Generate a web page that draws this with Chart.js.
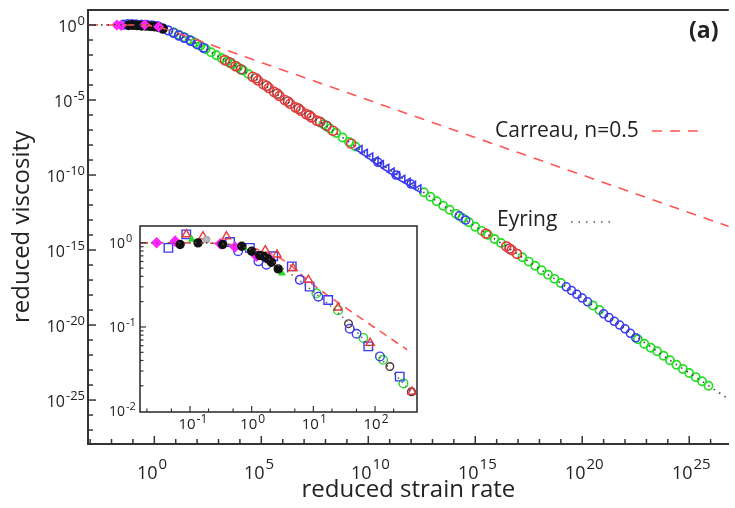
<!DOCTYPE html>
<html>
<head>
<meta charset="utf-8">
<script src="https://cdn.jsdelivr.net/npm/chart.js@4.4.1/dist/chart.umd.min.js"></script>
<style>
  body { margin: 0; background: #fff; }
  #wrap { position: relative; width: 735px; height: 508px; }
  #mainChart { position: absolute; left: 0; top: 0; }
  #insetChart { position: absolute; left: 95px; top: 215px; }
</style>
</head>
<body>
<div id="wrap">
  <canvas id="mainChart" width="735" height="508"></canvas>
  <canvas id="insetChart" width="335" height="235"></canvas>
</div>
<script>
// all values are log10 of reduced strain rate (X) and reduced viscosity (Y)

// main plot: model curves
const mainEyringX = [-3.1, -1, 0, 0.5, 1, 1.5, 2, 3, 4, 5, 6, 7, 8, 9, 10, 12, 14, 16, 18, 20, 22, 24, 26, 26.85];
const mainEyringY = [0, 0.02, -0.05, -0.25, -0.55, -0.88, -1.25, -2.1, -2.9, -3.85, -4.9, -5.85, -6.7, -7.7, -8.7, -10.6, -12.5, -14.35, -16.25, -18.2, -20.25, -22.25, -24.13, -24.95];
const mainCarreauX = [-3.1, -1, -0.5, 0, 0.5, 1, 1.5, 2, 3, 5, 10, 15, 20, 26.85];
const mainCarreauY = [0, 0, -0.01, -0.08, -0.26, -0.5, -0.75, -1.0, -1.5, -2.5, -5.0, -7.5, -10.0, -13.43];

// main plot: data
const mainMagentaX = [-1.75, -1.55, -0.45, 0.2];
const mainMagentaY = [0.0, -0.03, 0.02, -0.12];
const mainBlackX = [-1.2, -1.0, -0.8, -0.6, -0.4, -0.2, 0.0, 0.2, 0.4];
const mainBlackY = [-0.02, 0.0, -0.03, -0.05, -0.05, -0.08, -0.1, -0.15, -0.25];
const mainBlueEarlyX = [-1.45, -1.25, -1.05, -0.85, -0.6, -0.35, -0.1, 0.15, 0.4, 0.65, 0.9, 1.15, 1.4, 1.7, 2.0, 2.3];
const mainBlueEarlyY = [0.02, 0.05, 0.05, 0.04, 0.03, 0.0, -0.02, -0.08, -0.22, -0.36, -0.52, -0.7, -0.85, -1.05, -1.28, -1.52];
const mainGreenX = [0.9, 1.15, 1.4, 1.65, 1.9, 2.15, 2.4, 2.65, 2.9, 3.15, 3.4, 3.65, 3.9, 4.15, 4.4,
  7.9, 8.2, 8.5, 8.8, 9.1, 9.4,
  12.6, 12.9, 13.2, 13.5, 13.8, 14.1, 14.4, 14.7, 15.0, 15.3, 15.6, 15.9, 16.2,
  17.2, 17.5, 17.8, 18.1, 18.4, 18.7, 19.0, 20.5, 20.8,
  22.6, 22.9, 23.2, 23.5, 23.8, 24.1, 24.4, 24.7, 25.0, 25.3, 25.6, 25.9];
const mainGreenY = [-0.49, -0.65, -0.82, -0.99, -1.17, -1.38, -1.6, -1.81, -2.02, -2.22, -2.42, -2.62, -2.82, -3.03, -3.26,
  -6.62, -6.9, -7.2, -7.5, -7.8, -8.1,
  -11.15, -11.45, -11.75, -12.05, -12.32, -12.59, -12.86, -13.15, -13.45, -13.72, -13.99, -14.26, -14.53,
  -15.48, -15.77, -16.05, -16.35, -16.64, -16.92, -17.2, -18.7, -19.0,
  -20.95, -21.25, -21.51, -21.75, -22.05, -22.35, -22.65, -22.93, -23.2, -23.47, -23.75, -24.05];
const mainRedX = [3.3, 3.8, 4.6, 4.85, 5.1, 5.35, 5.6, 5.85, 6.1, 6.35, 6.6, 6.85, 7.1, 7.35, 7.6, 8.35, 9.2, 15.5, 16.45, 16.7, 16.95];
const mainRedY = [-2.34, -2.74, -3.45, -3.7, -3.95, -4.2, -4.46, -4.73, -5.0, -5.25, -5.49, -5.71, -5.94, -6.16, -6.38, -7.05, -7.9, -13.9, -14.75, -15.0, -15.25];
const mainDarkRedX = [3.55, 4.05, 4.75, 5.25, 5.75, 6.25, 6.75, 7.25, 7.75, 8.05, 16.6];
const mainDarkRedY = [-2.5, -2.95, -3.55, -4.05, -4.58, -5.1, -5.58, -6.03, -6.46, -6.72, -14.9];
const mainBlueTriX = [9.6, 9.85, 10.1, 10.35, 10.6, 10.85, 11.1, 11.35, 11.6, 11.85, 12.1, 12.35];
const mainBlueTriY = [-8.3, -8.55, -8.8, -9.05, -9.3, -9.55, -9.8, -10.05, -10.28, -10.48, -10.69, -10.92];
const mainBlueLateX = [10.45, 11.3, 12.0, 14.25, 14.55, 19.25, 19.5, 19.75, 20.0, 20.25, 21.0, 21.25, 21.5, 21.75, 22.0, 22.25, 22.5];
const mainBlueLateY = [-9.15, -10.0, -10.6, -12.72, -13.0, -17.45, -17.7, -17.95, -18.2, -18.45, -19.25, -19.5, -19.75, -20.0, -20.25, -20.55, -20.85];

// inset
const insetCarreauX = [-1.81, -1, -0.5, 0, 0.5, 1, 1.5, 2, 2.52];
const insetCarreauY = [0, 0, -0.01, -0.06, -0.2, -0.5, -0.76, -1.01, -1.27];
const insetEyringX = [-1.81, -1, -0.5, 0, 0.5, 1, 1.5, 2, 2.68];
const insetEyringY = [0, 0, -0.01, -0.08, -0.3, -0.58, -0.9, -1.3, -1.85];
const insetMagentaX = [-1.54, -1.24, -0.51, -0.27, 0.08, 0.30];
const insetMagentaY = [0.0, 0.02, -0.01, -0.05, -0.16, -0.20];
const insetSquareX = [-1.35, -1.06, -0.35, -0.03, 0.35, 0.65, 0.94, 1.24, 1.89, 2.40];
const insetSquareY = [-0.06, 0.10, 0.01, -0.06, -0.16, -0.28, -0.52, -0.68, -1.23, -1.59];
const insetTriX = [-1.06, -0.79, -0.41, 0.22, 0.41, 0.67, 0.92, 1.40, 1.92, 2.60];
const insetTriY = [0.10, 0.075, 0.075, -0.09, -0.14, -0.30, -0.44, -0.77, -1.19, -1.77];
const insetBlackX = [-1.16, -0.87, -0.47, -0.16, 0.0, 0.13, 0.19, 0.26, 0.32, 0.43];
const insetBlackY = [-0.02, 0.0, -0.02, -0.04, -0.10, -0.15, -0.16, -0.19, -0.23, -0.31];
const insetBlueCircX = [-0.22, 0.11, 0.24, 0.78, 1.08, 1.59, 1.70, 2.08];
const insetBlueCircY = [-0.10, -0.22, -0.26, -0.44, -0.64, -1.02, -1.08, -1.35];
const insetGreenCircX = [1.05, 1.40, 1.81, 2.13, 2.46];
const insetGreenCircY = [-0.60, -0.80, -1.13, -1.39, -1.67];
const insetGreenFillX = [-0.97, -0.12, 0.49];
const insetGreenFillY = [0.04, -0.06, -0.36];
const insetDarkX = [1.57, 2.24, 2.59];
const insetDarkY = [-0.96, -1.47, -1.77];
const insetGrayX = [-0.73];
const insetGrayY = [0.04];

const FONT = '"Open Sans", "DejaVu Sans", sans-serif';
const INK = '#222';
const AXIS = '#333';

function pts(xs, ys) {
    return xs.map((v, i) => ({ x: 10 ** v, y: 10 ** ys[i] }));
}

function markers(label, xs, ys, shape, radius, stroke, fillColor, rot, bw) {
    return {
        label, data: pts(xs, ys), showLine: false,
        pointStyle: shape, pointRadius: radius, pointRotation: rot || 0,
        pointBorderColor: stroke, pointBackgroundColor: fillColor, pointBorderWidth: bw || 1.4,
        borderColor: stroke, backgroundColor: fillColor
    };
}

function curve(label, xs, ys, color, dash, width) {
    return {
        label, data: pts(xs, ys), showLine: true, pointRadius: 0,
        borderColor: color, borderWidth: width, borderDash: dash,
        cubicInterpolationMode: 'monotone', fill: false
    };
}

// "10" with a raised exponent
function drawPow(ctx, exp, x, cy, o) {
    ctx.font = o.base + 'px ' + FONT;
    const wb = ctx.measureText('10').width;
    ctx.font = o.sup + 'px ' + FONT;
    const ws = ctx.measureText(exp).width;
    let x0;
    if (o.align === 'right') x0 = x - ws - wb - 1;
    else if (o.align === 'left') x0 = x;
    else x0 = x - wb / 2;
    ctx.textAlign = 'left';
    ctx.textBaseline = 'middle';
    ctx.fillStyle = INK;
    ctx.font = o.base + 'px ' + FONT;
    ctx.fillText('10', x0, cy);
    ctx.font = o.sup + 'px ' + FONT;
    ctx.fillText(exp, x0 + wb + 1, cy - o.rise);
}

function seg(ctx, x1, y1, x2, y2) {
    ctx.beginPath();
    ctx.moveTo(x1, y1);
    ctx.lineTo(x2, y2);
    ctx.stroke();
}

const mainDecor = {
    id: 'mainDecor',
    afterDraw(chart) {
        const { ctx, chartArea: a, scales: { x, y } } = chart;
        ctx.save();
        ctx.strokeStyle = AXIS;
        ctx.lineWidth = 2;
        seg(ctx, a.left, a.top, a.right, a.top);

        ctx.lineWidth = 1.5;
        for (let n = -3; n <= 26; n++) {
            const px = x.getPixelForValue(10 ** n);
            const major = n % 5 === 0;
            seg(ctx, px, a.bottom, px, a.bottom - (major ? 8 : 5));
            if (major) drawPow(ctx, String(n), px - 7, 474, { base: 18, sup: 15, rise: 9, align: 'center' });
        }
        for (let n = 0; n >= -27; n--) {
            const py = y.getPixelForValue(10 ** n);
            const major = n % 5 === 0;
            seg(ctx, a.left, py, a.left + (major ? 8 : 5), py);
            if (major) drawPow(ctx, String(n), 85, py + 2.5, { base: 16, sup: 13, rise: 6.5, align: 'right' });
        }

        // model labels
        ctx.fillStyle = INK;
        ctx.textAlign = 'left';
        ctx.textBaseline = 'middle';
        ctx.font = '21px ' + FONT;
        ctx.fillText('Carreau, n=0.5', 495, 131);
        ctx.fillText('Eyring', 497, 220);
        ctx.strokeStyle = '#ff5555';
        ctx.setLineDash([10, 8]);
        seg(ctx, 652, 131, 704, 131);
        ctx.strokeStyle = '#555';
        ctx.setLineDash([1.5, 6]);
        seg(ctx, 571, 222, 614, 222);
        ctx.setLineDash([]);

        ctx.font = 'bold 23px ' + FONT;
        ctx.fillText('(a)', 689, 31);
        ctx.restore();
    }
};

const insetDecor = {
    id: 'insetDecor',
    beforeDraw(chart) {
        const { ctx, chartArea: a } = chart;
        ctx.save();
        ctx.fillStyle = '#fff';
        ctx.fillRect(a.left, a.top, a.right - a.left, a.bottom - a.top);
        ctx.restore();
    },
    afterDraw(chart) {
        const { ctx, chartArea: a, scales: { x, y } } = chart;
        ctx.save();
        ctx.strokeStyle = AXIS;
        ctx.lineWidth = 1.6;
        ctx.strokeRect(a.left, a.top, a.right - a.left, a.bottom - a.top);
        ctx.lineWidth = 1.2;
        for (let n = -2; n <= 2; n++) {
            [1, 2, 5].forEach(k => {
                const v = k * 10 ** n;
                const px = x.getPixelForValue(v);
                if (px <= a.left + 1 || px >= a.right - 1) return;
                seg(ctx, px, a.bottom, px, a.bottom - (k === 1 ? 6 : 3.5));
            });
            if (n >= -1) drawPow(ctx, String(n), x.getPixelForValue(10 ** n) - 3, 210, { base: 15, sup: 12, rise: 5, align: 'center' });
        }
        for (let n = -2; n <= 0; n++) {
            for (let k = 1; k <= 9; k++) {
                const py = y.getPixelForValue(k * 10 ** n);
                if (py <= a.top + 1 || py >= a.bottom - 1) continue;
                seg(ctx, a.left, py, a.left + (k === 1 ? 6 : 3.5), py);
            }
            drawPow(ctx, String(n), 14, y.getPixelForValue(10 ** n) + 1, { base: 14, sup: 11, rise: 5, align: 'left' });
        }
        ctx.restore();
    }
};

const BLUE = '#3a3af5';
const GREEN = '#25dc25';
const RED = '#e83a3a';
const DARKRED = '#a04545';
const MAGENTA = '#ff22ff';
const CLEAR = 'rgba(255,255,255,0)';

new Chart(document.getElementById('mainChart'), {
    type: 'scatter',
    data: {
        datasets: [
            curve('Eyring', mainEyringX, mainEyringY, '#444', [1.5, 5], 1.6),
            curve('Carreau, n=0.5', mainCarreauX, mainCarreauY, '#ff5555', [10, 8], 1.6),
            markers('magenta', mainMagentaX, mainMagentaY, 'rectRot', 4.5, MAGENTA, MAGENTA),
            markers('black', mainBlackX, mainBlackY, 'circle', 4.2, '#111', '#111'),
            markers('blue early', mainBlueEarlyX, mainBlueEarlyY, 'circle', 4.3, BLUE, CLEAR, 0, 1.7),
            markers('red', mainRedX, mainRedY, 'circle', 4.5, RED, CLEAR, 0, 1.7),
            markers('dark red', mainDarkRedX, mainDarkRedY, 'circle', 4.5, DARKRED, CLEAR, 0, 1.7),
            markers('blue triangles', mainBlueTriX, mainBlueTriY, 'triangle', 4.5, BLUE, CLEAR, 270, 1.6),
            markers('blue late', mainBlueLateX, mainBlueLateY, 'circle', 4, BLUE, CLEAR, 0, 1.6),
            markers('green', mainGreenX, mainGreenY, 'circle', 4.1, GREEN, CLEAR, 0, 1.7)
        ]
    },
    options: {
        responsive: false,
        animation: false,
        layout: { padding: { top: 10, right: 0, left: 0, bottom: 0 } },
        plugins: { legend: { display: false }, tooltip: { enabled: false } },
        scales: {
            x: {
                type: 'logarithmic', min: 10 ** -3.1, max: 10 ** 26.85,
                grid: { display: false },
                border: { display: true, color: AXIS, width: 2 },
                ticks: { display: false },
                title: { display: true, text: 'reduced strain rate', color: INK, font: { family: FONT, size: 24 }, padding: { top: 0, bottom: 3 } },
                afterFit: s => { s.height = 64; }
            },
            y: {
                type: 'logarithmic', min: 10 ** -27.93, max: 10 ** 1,
                grid: { display: false },
                border: { display: true, color: AXIS, width: 2 },
                ticks: { display: false },
                title: { display: true, text: 'reduced viscosity', color: INK, font: { family: FONT, size: 24 }, padding: { top: 8, bottom: 0 } },
                afterFit: s => { s.width = 88; }
            }
        }
    },
    plugins: [mainDecor]
});

new Chart(document.getElementById('insetChart'), {
    type: 'scatter',
    data: {
        datasets: [
            curve('Eyring', insetEyringX, insetEyringY, '#555', [1.5, 4], 1.4),
            markers('black', insetBlackX, insetBlackY, 'circle', 4, '#111', '#111'),
            markers('magenta', insetMagentaX, insetMagentaY, 'rectRot', 4.8, MAGENTA, MAGENTA),
            markers('green filled', insetGreenFillX, insetGreenFillY, 'triangle', 3.2, GREEN, GREEN),
            markers('gray', insetGrayX, insetGrayY, 'circle', 3, '#aaa', '#bbb'),
            markers('triangles', insetTriX, insetTriY, 'triangle', 4.8, RED, CLEAR),
            markers('squares', insetSquareX, insetSquareY, 'rect', 6, BLUE, CLEAR),
            markers('blue circles', insetBlueCircX, insetBlueCircY, 'circle', 4.3, BLUE, CLEAR),
            markers('green circles', insetGreenCircX, insetGreenCircY, 'circle', 4.3, GREEN, CLEAR),
            markers('dark', insetDarkX, insetDarkY, 'circle', 3.8, '#553333', CLEAR),
            curve('Carreau, n=0.5', insetCarreauX, insetCarreauY, '#ff5555', [8, 6], 1.6)
        ]
    },
    options: {
        responsive: false,
        animation: false,
        layout: { padding: { top: 11, right: 13, left: 0, bottom: 0 } },
        plugins: { legend: { display: false }, tooltip: { enabled: false } },
        scales: {
            x: {
                type: 'logarithmic', min: 10 ** -1.81, max: 10 ** 2.68,
                grid: { display: false }, border: { display: false }, ticks: { display: false },
                afterFit: s => { s.height = 38; }
            },
            y: {
                type: 'logarithmic', min: 10 ** -2.01, max: 10 ** 0.2,
                grid: { display: false }, border: { display: false }, ticks: { display: false },
                afterFit: s => { s.width = 45; }
            }
        }
    },
    plugins: [insetDecor]
});
</script>
</body>
</html>
